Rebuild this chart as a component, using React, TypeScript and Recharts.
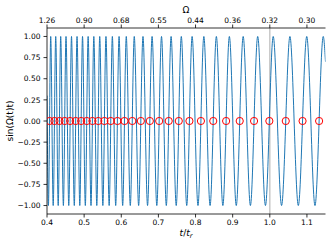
import {
  ComposedChart,
  Line,
  Scatter,
  XAxis,
  YAxis,
  ReferenceLine,
  Label,
} from "recharts";

// axis ticks
const xTicks = [0.4, 0.5, 0.6, 0.7, 0.8, 0.9, 1.0, 1.1];
const omegaLabels = ["1.26", "0.90", "0.68", "0.55", "0.44", "0.36", "0.32", "0.30"];
const yTicks = [-1, -0.75, -0.5, -0.25, 0, 0.25, 0.5, 0.75, 1];

// positions (t/t_r) of the minima and maxima of the signal
const troughT = [
  0.4038, 0.4167, 0.4302, 0.4441, 0.4586, 0.4735, 0.4883, 0.5032, 0.5185, 0.5341,
  0.5504, 0.5674, 0.585, 0.6038, 0.6243, 0.6468, 0.6708, 0.6957, 0.7213, 0.748,
  0.7763, 0.8066, 0.8392, 0.8736, 0.9097, 0.9478, 0.9883, 1.0317, 1.0768, 1.1217,
];
const peakT = [
  0.41, 0.4235, 0.4369, 0.4512, 0.466, 0.4809, 0.4957, 0.5108, 0.5261, 0.542,
  0.5588, 0.576, 0.5941, 0.6135, 0.635, 0.6585, 0.683, 0.7084, 0.7342, 0.7617,
  0.7908, 0.8224, 0.8561, 0.8911, 0.9283, 0.9674, 1.0092, 1.0542, 1.0995, 1.1439,
];
const troughY = -1;
const peakY = 1;
// signal value at the two ends of the window
const edgeT = [0.4, 1.15];
const edgeY = [0.3, 0.7];

// red markers: upward zero crossings
const crossT = [
  0.4069, 0.4201, 0.4336, 0.4477, 0.4623, 0.4772, 0.492, 0.507, 0.5223, 0.5381,
  0.5546, 0.5717, 0.5896, 0.6087, 0.6297, 0.6527, 0.6769, 0.7021, 0.7278, 0.7549,
  0.7836, 0.8145, 0.8477, 0.8824, 0.919, 0.9576, 0.9988, 1.043, 1.0882, 1.1328,
];

const signal: { t: number; y: number }[] = [{ t: edgeT[0], y: edgeY[0] }];
troughT.forEach((t, i) => {
  signal.push({ t, y: troughY });
  signal.push({ t: peakT[i], y: peakY });
});
signal.push({ t: edgeT[1], y: edgeY[1] });

const markers = crossT.map((t) => ({ t, y: 0 }));

const FONT = "DejaVu Sans";
const tickStyle = { fontSize: 7.5, fill: "#000", fontFamily: FONT };

function Ring(props: any) {
  return (
    <circle cx={props.cx} cy={props.cy} r={3.6} fill="none" stroke="#ff0000" strokeWidth={1} />
  );
}

export default function App() {
  return (
    <div style={{ position: "absolute", left: 0, top: 0 }}>
      <ComposedChart
        width={331}
        height={245}
        data={signal}
        margin={{ top: 0, right: 5.5, bottom: 0, left: 0 }}
      >
        <XAxis
          dataKey="t"
          type="number"
          domain={[0.4, 1.15]}
          allowDataOverflow
          ticks={xTicks}
          tickFormatter={(v: number) => v.toFixed(1)}
          height={31}
          tick={tickStyle}
          tickSize={3.5}
          tickMargin={2}
          stroke="#000"
          strokeWidth={0.8}
        >
          <Label
            content={() => (
              <text x={186} y={236} textAnchor="middle" fontFamily={FONT} fontSize={9} fill="#000">
                <tspan fontStyle="italic">t</tspan>
                <tspan>/</tspan>
                <tspan fontStyle="italic">t</tspan>
                <tspan fontStyle="italic" fontSize={6.5} dy={2}>r</tspan>
              </text>
            )}
          />
        </XAxis>
        <XAxis
          xAxisId="top"
          orientation="top"
          dataKey="t"
          type="number"
          domain={[0.4, 1.15]}
          allowDataOverflow
          ticks={xTicks}
          tickFormatter={(v: number) => omegaLabels[xTicks.indexOf(v)]}
          height={28}
          tick={tickStyle}
          tickSize={3.5}
          tickMargin={2}
          stroke="#000"
          strokeWidth={0.8}
        >
          <Label
            content={() => (
              <text x={186} y={13} textAnchor="middle" fontFamily={FONT} fontSize={9} fill="#000">
                Ω
              </text>
            )}
          />
        </XAxis>
        <YAxis
          type="number"
          domain={[-1.1, 1.1]}
          allowDataOverflow
          ticks={yTicks}
          tickFormatter={(v: number) => v.toFixed(2).replace("-", "\u2212")}
          width={47}
          tick={tickStyle}
          tickSize={3.5}
          tickMargin={3}
          stroke="#000"
          strokeWidth={0.8}
        >
          <Label
            content={() => (
              <text
                x={10}
                y={121}
                textAnchor="middle"
                dominantBaseline="central"
                transform="rotate(-90 10 121)"
                fontFamily={FONT}
                fontSize={9}
                fill="#000"
              >
                sin(Ω(t)t)
              </text>
            )}
          />
        </YAxis>
        <YAxis
          yAxisId="right"
          orientation="right"
          type="number"
          domain={[-1.1, 1.1]}
          width={0}
          tick={false}
          tickLine={false}
          stroke="#000"
          strokeWidth={0.8}
        />
        <ReferenceLine x={1.0} stroke="#c8c8c8" strokeWidth={1.5} />
        <Line
          dataKey="y"
          type="monotone"
          stroke="#1f77b4"
          strokeWidth={1}
          dot={false}
          isAnimationActive={false}
        />
        <Scatter data={markers} dataKey="y" shape={Ring} isAnimationActive={false} />
      </ComposedChart>
    </div>
  );
}
